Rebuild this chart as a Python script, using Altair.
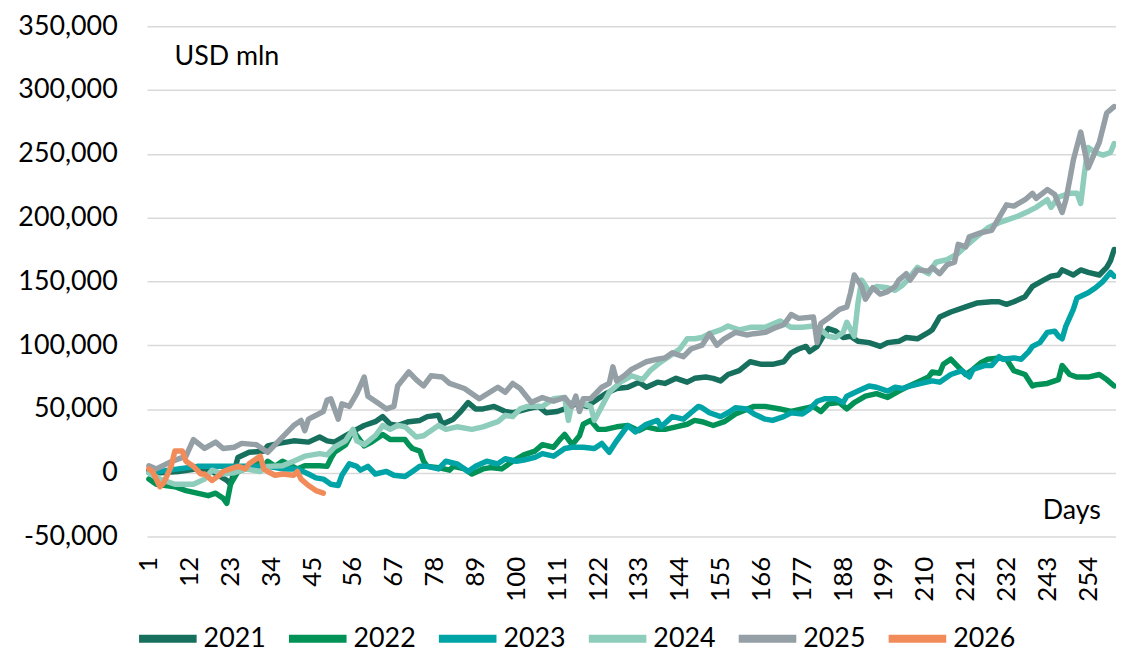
import altair as alt
import pandas as pd

# ---- data (values in thousands of USD mln) ----
years = ["2021", "2022", "2023", "2024", "2025", "2026"]
colors = ["#17705E", "#009257", "#00A3A6", "#8ECDBB", "#959FA6", "#F28B5A"]

d21 = [1, 4, 9, 14, 18, 22, 23, 25, 28, 32, 33, 36, 40, 44, 47, 49, 51, 54, 57, 59, 62, 64, 66, 68, 71, 74, 76, 79, 80, 83, 85, 87, 89, 91, 94, 97, 99, 103, 106, 108, 111, 114, 116, 119, 122, 124, 127, 130, 133, 135, 138, 140, 143, 146, 148, 151, 153, 155, 157, 160, 163, 166, 169, 172, 174, 176, 178, 179, 181, 182, 184, 186, 188, 190, 192, 195, 198, 200, 203, 205, 208, 211, 212, 214, 217, 221, 224, 228, 230, 232, 234, 237, 239, 242, 244, 246, 247, 250, 252, 254, 257, 259, 260, 261]
v21 = [2, 0, 1, 3, 1, -6, -9, 12, 16, 17, 21, 23, 25, 24, 28, 25, 24, 29, 34, 37, 40, 44, 38, 37, 40, 41, 44, 45, 38, 42, 48, 55, 50, 50, 52, 48, 47, 50, 52, 47, 48, 51, 54, 52, 58, 62, 66, 67, 71, 67, 71, 70, 74, 71, 74, 75, 74, 72, 77, 80, 87, 85, 85, 87, 94, 97, 99, 95, 99, 104, 113, 111, 106, 107, 103, 102, 99, 102, 103, 106, 105, 110, 112, 122, 126, 130, 133, 134, 134, 132, 134, 138, 146, 151, 154, 155, 159, 155, 159, 157, 155, 161, 166, 175]

d22 = [1, 3, 8, 11, 14, 17, 19, 21, 22, 23, 25, 27, 30, 32, 33, 35, 37, 41, 43, 47, 49, 50, 51, 54, 56, 59, 61, 64, 66, 68, 70, 71, 72, 74, 75, 76, 79, 82, 83, 86, 88, 91, 93, 96, 99, 102, 105, 107, 110, 112, 113, 115, 117, 118, 120, 122, 124, 127, 130, 133, 135, 138, 140, 143, 146, 148, 150, 153, 156, 159, 164, 167, 171, 174, 177, 180, 182, 184, 187, 189, 191, 194, 197, 200, 203, 205, 208, 211, 212, 214, 215, 217, 219, 221, 223, 225, 227, 230, 232, 234, 237, 239, 240, 243, 246, 247, 249, 251, 254, 257, 259, 261]
v22 = [-5, -9, -11, -14, -16, -18, -16, -20, -24, -9, 1, 3, 9, 5, 9, 5, 9, 3, 5.5, 5.5, 5, 11, 16, 22, 33, 21, 24, 30, 26, 26, 26, 22, 19, 17, 9, 5, 4, 2, 5, 3, -1, 3, 4, 3, 9, 14, 17, 22, 20, 27, 30, 22, 29, 38, 41, 34, 34, 36, 37, 33, 36, 34, 34, 36, 38, 41, 40, 37, 40, 46, 52, 52, 50, 48, 50, 52, 48, 54, 55, 50, 55, 60, 62, 59, 64, 67, 71, 75, 79, 78, 85, 89, 83, 77, 81, 86, 89, 90, 89, 80, 77, 68, 69, 70, 73, 84, 77, 75, 75, 77, 73, 68]

d23 = [1, 4, 9, 14, 18, 22, 26, 30, 33, 37, 41, 44, 46, 48, 50, 52, 53, 55, 57, 58, 60, 62, 65, 67, 70, 72, 74, 76, 79, 81, 84, 87, 89, 92, 95, 97, 100, 102, 105, 107, 110, 113, 115, 118, 121, 123, 125, 127, 130, 132, 135, 138, 139, 142, 145, 147, 149, 150, 152, 155, 157, 159, 162, 164, 167, 169, 172, 174, 177, 179, 181, 183, 186, 188, 189, 192, 195, 197, 200, 202, 204, 206, 209, 212, 214, 217, 220, 222, 223, 226, 228, 230, 231, 234, 236, 238, 239, 241, 243, 245, 246, 247, 248, 250, 251, 254, 256, 258, 260, 261]
v23 = [0, 1, 3, 5, 5, 5, 5, 5, 5, 3, 3, -1, -4, -5, -9, -10, -2, 7, 5, 2, 5, -1, 1, -2, -3, 1, 5, 5, 3, 9, 7, 1, 5, 9, 7, 11, 9, 10, 12, 15, 13, 19, 20, 20, 19, 23, 16, 25, 37, 32, 38, 41, 36, 44, 42, 47, 52, 51, 47, 44, 47, 51, 50, 46, 42, 41, 44, 47, 46, 50, 56, 58, 58, 55, 60, 64, 68, 67, 64, 67, 66, 68, 70, 72, 71, 77, 80, 75, 81, 84, 84, 91, 89, 90, 89, 95, 99, 102, 110, 111, 107, 105, 115, 128, 137, 141, 145, 150, 157, 154]

d24 = [1, 4, 8, 13, 16, 18, 21, 24, 27, 31, 33, 37, 40, 43, 47, 49, 51, 54, 56, 57, 59, 62, 64, 66, 68, 70, 73, 75, 79, 81, 84, 88, 91, 95, 97, 99, 101, 103, 107, 110, 113, 114, 115, 117, 120, 121, 123, 125, 128, 131, 134, 136, 139, 141, 144, 146, 148, 150, 152, 155, 157, 160, 163, 167, 171, 174, 177, 180, 182, 184, 186, 188, 189, 191, 192, 193, 195, 197, 200, 202, 204, 205, 208, 211, 213, 216, 219, 222, 224, 227, 230, 232, 235, 238, 240, 243, 244, 246, 249, 251, 252, 253, 254, 256, 258, 260, 261]
v24 = [0, -5, -9, -9, -5, 2, -1, 0, 3, 1, 5, 5.5, 9, 13, 15, 14, 20, 25, 34, 25, 22, 29, 37, 34, 37, 36, 28, 29, 37, 34, 36, 34, 36, 40, 45, 44, 50, 52, 52, 58, 59, 41, 55, 55, 52, 41, 52, 63, 71, 76, 73, 80, 87, 91, 97, 105, 105, 106, 109, 112, 115, 112, 114, 114, 119, 114, 114, 115, 112, 107, 106, 110, 118, 107, 133, 151, 142, 146, 145, 143, 147, 150, 161, 156, 165, 167, 172, 180, 185, 192, 196, 198, 201, 205, 208, 214, 208, 216, 219, 219, 211, 235, 255, 251, 249, 251, 258]

d25 = [1, 3, 7, 11, 13, 16, 19, 21, 24, 26, 30, 33, 36, 40, 42, 43, 44, 48, 49, 50, 52, 53, 55, 57, 59, 60, 63, 65, 67, 68, 71, 73, 75, 77, 80, 82, 86, 90, 95, 97, 99, 101, 104, 107, 110, 113, 115, 116, 117, 118, 120, 123, 125, 126, 127, 129, 131, 133, 135, 138, 140, 142, 145, 147, 150, 152, 154, 156, 159, 162, 164, 167, 170, 172, 174, 176, 180, 181, 182, 184, 187, 189, 190, 191, 193, 194, 196, 198, 200, 202, 203, 205, 206, 208, 211, 212, 214, 216, 218, 219, 221, 222, 225, 228, 230, 232, 234, 237, 239, 240, 243, 245, 247, 248, 249, 250, 252, 254, 257, 259, 261]
v25 = [5.5, 3, 8.6, 13, 26, 19, 24, 19, 20, 23, 22, 16, 25, 37, 41, 33, 42, 48, 57, 58, 42, 54, 52, 62, 75, 60, 54, 50, 52, 68, 79, 73, 68, 76, 75, 70, 66, 58, 67, 63, 70, 66, 55, 59, 56, 59, 52, 60, 48, 58, 58, 67, 70, 83, 72, 76, 81, 84, 87, 89, 90, 94, 91, 97, 100, 109, 100, 105, 110, 108, 109, 110, 114, 116, 124, 121, 122, 102, 117, 121, 128, 130, 141, 155, 146, 136, 145, 140, 142, 146, 151, 156, 151, 159, 158, 161, 156, 163, 165, 179, 177, 185, 188, 190, 200, 210, 209, 214, 219, 215, 222, 218, 204, 214, 229, 245, 267, 239, 259, 282, 287]

d26 = [1, 2, 4, 5, 7, 8, 10, 11, 13, 15, 16, 18, 20, 21, 23, 25, 27, 28, 31, 32, 33, 35, 37, 40, 41, 42, 44, 46, 48]
v26 = [3, 1, -11, -8, 5, 17, 17, 9, 5, -1, -1, -6, -2, 1, 3, 5, 3, 7, 13, 3, 1, -2, -1, -2, 1, -5, -10, -14, -16]

x_ticks = list(range(1, 262, 11))
y_ticks = list(range(-50000, 350001, 50000))

series = [(d21, v21), (d22, v22), (d23, v23), (d24, v24), (d25, v25), (d26, v26)]
rows = []
for yr, (ds, vs) in zip(years, series):
    for d, v in zip(ds, vs):
        rows.append({"year": yr, "day": d, "value": v * 1000})
df = pd.DataFrame(rows)

FONT = "Lato"
FS = 27

chart = alt.Chart(df).mark_line(strokeWidth=5.5, strokeJoin="round", strokeCap="round").encode(
    x=alt.X("day:Q",
            scale=alt.Scale(domain=[0.5, 261.5], nice=False, zero=False),
            axis=alt.Axis(values=x_ticks, format="d", labelAngle=-90, grid=False, domain=False,
                          ticks=False, labelPadding=20, labelFontSize=26, labelColor="#000000",
                          labelFont=FONT, title="Days", titleFont=FONT, titleFontSize=FS,
                          titleFontWeight="normal", titleColor="#000000", titleX=931, titleY=-26,
                          titleAlign="center", titleBaseline="middle", labelOverlap=False)),
    y=alt.Y("value:Q",
            scale=alt.Scale(domain=[-50000, 350000], nice=False),
            axis=alt.Axis(values=y_ticks, format=",.0f", labelExpr="replace(datum.label, '\u2212', '-')",
                          grid=True, gridColor="#d9d9d9", gridWidth=1.5, domain=False, ticks=False,
                          labelPadding=30, labelFontSize=FS, labelFont=FONT, labelColor="#000000",
                          title="USD mln", titleAngle=0, titleX=80, titleY=31, titleFont=FONT,
                          titleFontSize=FS, titleFontWeight="normal", titleColor="#000000",
                          titleAlign="center", titleBaseline="middle")),
    color=alt.Color("year:N",
                    scale=alt.Scale(domain=years, range=colors),
                    legend=alt.Legend(title=None, orient="none", legendX=-12, legendY=584,
                                      direction="horizontal", symbolType="stroke",
                                      symbolStrokeWidth=8, symbolSize=3364, labelFontSize=FS,
                                      labelFont=FONT, labelColor="#000000", labelOffset=3,
                                      columnPadding=7, symbolOpacity=1)),
).properties(
    width=976, height=514,
    autosize=alt.AutoSizeParams(type="none"),
    padding={"left": 140, "top": 16, "right": 0, "bottom": 118},
).configure_view(stroke=None)

chart.save("out.html", embed_options={"renderer": "svg", "actions": False})
